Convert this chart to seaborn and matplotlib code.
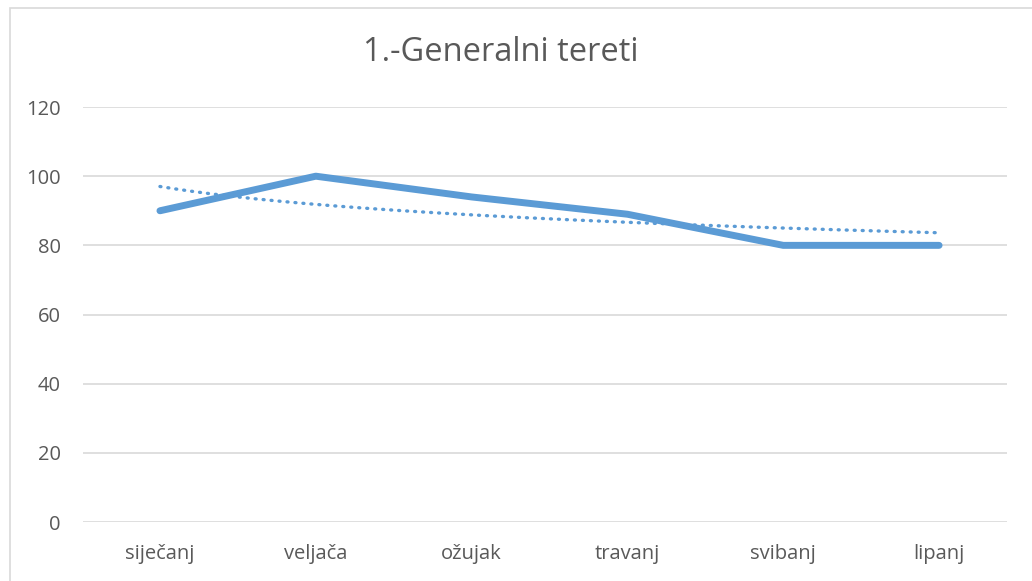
import matplotlib
matplotlib.use("Agg")
import matplotlib.pyplot as plt
import numpy as np
import pandas as pd
import seaborn as sns
from matplotlib.patches import Rectangle

months = ["siječanj", "veljača", "ožujak", "travanj", "svibanj", "lipanj"]
values = [90, 100, 94, 89, 80, 80]

sns.set_style("white")
plt.rcParams["font.family"] = ["Open Sans", "DejaVu Sans"]

df = pd.DataFrame({"mjesec": months, "x": range(len(months)), "vrijednost": values})

# logarithmic trend line (as in Excel), fitted on x = 1..n
xs = np.arange(1, len(values) + 1)
b, a = np.polyfit(np.log(xs), values, 1)
xt = np.linspace(1, len(values), 200)
trend = pd.DataFrame({"x": xt - 1, "y": a + b * np.log(xt)})

fig = plt.figure(figsize=(10.32, 5.81), dpi=100)
ax = fig.add_axes([0.0804, 0.1015, 0.8954, 0.7143])

blue = "#5B9BD5"
sns.lineplot(data=trend, x="x", y="y", ax=ax, color=blue, lw=2.4,
             linestyle=(0, (0.3, 2.1)), dash_capstyle="round")
sns.lineplot(data=df, x="x", y="vrijednost", ax=ax, color=blue, lw=5,
             solid_capstyle="round", solid_joinstyle="round")

ax.set_xlim(-0.494, 5.436)
ax.set_ylim(0, 120)
ax.set_yticks(range(0, 121, 20))
ax.set_xticks(range(len(months)))
ax.set_xticklabels(months)
ax.set_xlabel("")
ax.set_ylabel("")
ax.grid(axis="y", color="#D9D9D9", lw=1.2)
ax.set_axisbelow(True)
for s in ax.spines.values():
    s.set_visible(False)
ax.tick_params(axis="both", length=0, labelsize=14.5, colors="#595959")
ax.tick_params(axis="y", pad=16)
ax.tick_params(axis="x", pad=16)

fig.text(0.4855, 0.91, "1.-Generalni tereti", ha="center", va="center",
         fontsize=23.5, color="#595959")

# chart frame (cropped on right and bottom)
fig.patches.append(Rectangle((10 / 1032, -0.1), 1.2, 1 - 8 / 581 + 0.1,
                             transform=fig.transFigure, fill=False,
                             ec="#D9D9D9", lw=1.2))

fig.savefig("out.png", dpi=100)
